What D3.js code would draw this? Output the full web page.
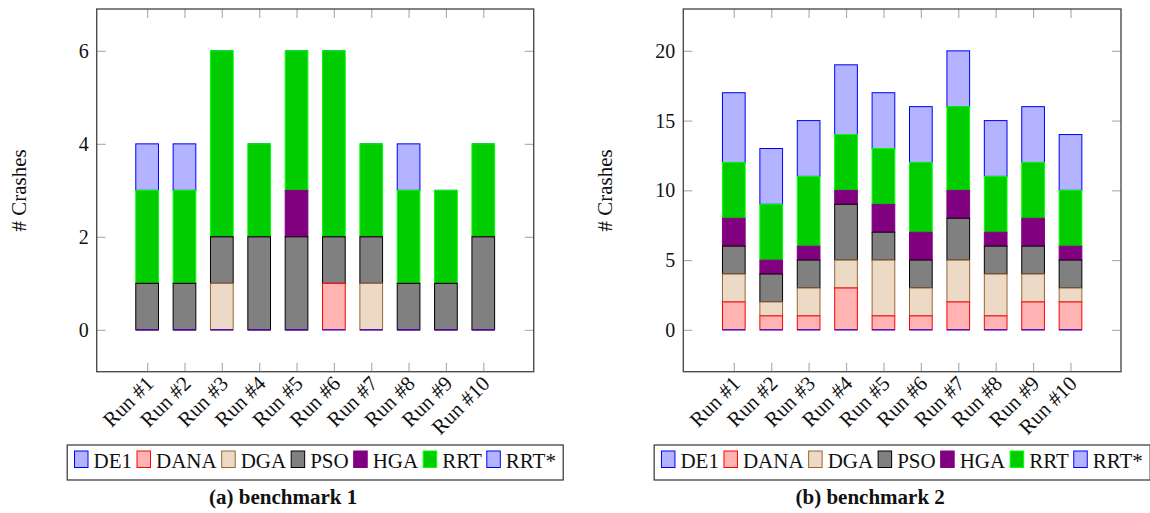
<!DOCTYPE html>
<html><head><meta charset="utf-8">
<script src="https://cdn.jsdelivr.net/npm/d3@7"></script>
<style>
body{margin:0;background:#fff}
svg{display:block}
text{font-family:"Liberation Serif";fill:#111}
</style>
</head><body>
<svg id="c" width="1150" height="513"></svg>
<script>
// ---------- data ----------
const runs = ["Run #1","Run #2","Run #3","Run #4","Run #5","Run #6","Run #7","Run #8","Run #9","Run #10"];
const seriesNames = ["DE1","DANA","DGA","PSO","HGA","RRT","RRT*"];
const seriesFill   = ["#b3b3ff","#ffb3b3","#ecd9c6","#808080","#800080","#00cc00","#b3b3ff"];
const seriesStroke = ["#0000ff","#ff0000","#996633","#000000","#800080","#00ff00","#0000ff"];

// benchmark 1
const b1DE1  = [0,0,0,0,0,0,0,0,0,0];
const b1DANA = [0,0,0,0,0,1,0,0,0,0];
const b1DGA  = [0,0,1,0,0,0,1,0,0,0];
const b1PSO  = [1,1,1,2,2,1,1,1,1,2];
const b1HGA  = [0,0,0,0,1,0,0,0,0,0];
const b1RRT  = [2,2,4,2,3,4,2,2,2,2];
const b1RRTs = [1,1,0,0,0,0,0,1,0,0];
const b1Ticks = [0,2,4,6];

// benchmark 2
const b2DE1  = [0,0,0,0,0,0,0,0,0,0];
const b2DANA = [2,1,1,3,1,1,2,1,2,2];
const b2DGA  = [2,1,2,2,4,2,3,3,2,1];
const b2PSO  = [2,2,2,4,2,2,3,2,2,2];
const b2HGA  = [2,1,1,1,2,2,2,1,2,1];
const b2RRT  = [4,4,5,4,4,5,6,4,4,4];
const b2RRTs = [5,4,4,5,4,4,4,4,4,4];
const b2Ticks = [0,5,10,15,20];

const captions = ["(a) benchmark 1","(b) benchmark 2"];

// ---------- drawing ----------
const svg = d3.select("#c");
const FONT = '"Liberation Serif"';

function drawChart(cfg){
  const {left,right,top,bottom,series,yDomain,yTicks,caption} = cfg;
  const g = svg.append("g");
  const x = d3.scaleLinear().domain([1-1.35, runs.length+1.35]).range([left,right]);
  const y = d3.scaleLinear().domain(yDomain).range([bottom,top]);
  const barW = 22.7;

  const table = runs.map((r,i)=>{
    const o = {run:r, idx:i+1};
    seriesNames.forEach((s,k)=>{ o[s] = series[k][i]; });
    return o;
  });
  const stacked = d3.stack().keys(seriesNames)(table);

  // draw series from top to bottom (reverse order), as in the original
  for(let k = stacked.length-1; k>=0; k--){
    const layer = stacked[k];
    const lg = g.append("g");
    layer.forEach(d=>{
      const cx = x(d.data.idx);
      const v = d[1]-d[0];
      if(v>0){
        lg.append("rect")
          .attr("x",cx-barW/2).attr("width",barW)
          .attr("y",y(d[1])).attr("height",y(d[0])-y(d[1]))
          .attr("fill",seriesFill[k]).attr("stroke",seriesStroke[k]).attr("stroke-width",1);
      } else {
        lg.append("line")
          .attr("x1",cx-barW/2).attr("x2",cx+barW/2)
          .attr("y1",y(d[0])).attr("y2",y(d[0]))
          .attr("stroke",seriesStroke[k]).attr("stroke-width",1);
      }
    });
  }

  const tickCol = "#b0b0b0";
  const ax = g.append("g").attr("transform",`translate(${left},0)`)
    .call(d3.axisLeft(y).tickValues(yTicks).tickSize(-9).tickPadding(8).tickFormat(d3.format("d")));
  ax.attr("font-family",FONT);
  ax.select(".domain").remove();
  ax.selectAll("line").attr("stroke",tickCol).attr("stroke-width",1.2);
  ax.selectAll("text").style("font-size","20px").attr("fill","#111").style("font-family",FONT);

  const axR = g.append("g").attr("transform",`translate(${right},0)`)
    .call(d3.axisRight(y).tickValues(yTicks).tickSize(-9).tickFormat(""));
  axR.select(".domain").remove();
  axR.selectAll("line").attr("stroke",tickCol).attr("stroke-width",1.2);

  const axT = g.append("g").attr("transform",`translate(0,${top})`)
    .call(d3.axisTop(x).tickValues(d3.range(1,runs.length+1)).tickSize(-9).tickFormat(""));
  axT.select(".domain").remove();
  axT.selectAll("line").attr("stroke",tickCol).attr("stroke-width",1.2);

  const axB = g.append("g").attr("transform",`translate(0,${bottom})`)
    .call(d3.axisBottom(x).tickValues(d3.range(1,runs.length+1)).tickSize(-9).tickFormat(d=>runs[d-1]));
  axB.attr("font-family",FONT);
  axB.select(".domain").remove();
  axB.selectAll("line").attr("stroke",tickCol).attr("stroke-width",1.2);
  axB.selectAll("text")
    .attr("x",0).attr("y",0).attr("dy","0.35em")
    .attr("text-anchor","end")
    .attr("transform","translate(2,8) rotate(-45)")
    .style("font-size","21px").attr("fill","#111").style("font-family",FONT);

  // frame
  g.append("rect").attr("x",left).attr("y",top).attr("width",right-left).attr("height",bottom-top)
    .attr("fill","none").attr("stroke","#4d4d4d").attr("stroke-width",1.4);

  // y label
  g.append("text")
    .attr("transform",`translate(${left-78},${(top+bottom)/2}) rotate(-90)`)
    .attr("text-anchor","middle").attr("dominant-baseline","central")
    .style("font-size","21px").style("font-family",FONT).text("# Crashes");

  // legend
  const cx = (left+right)/2;
  const boxW = 496, boxTop = 445, boxH = 35;
  const leg = g.append("g");
  leg.append("rect").attr("x",cx-boxW/2).attr("y",boxTop).attr("width",boxW).attr("height",boxH)
    .attr("fill","#fff").attr("stroke","#333").attr("stroke-width",1.2);
  const items = leg.append("g");
  let pos = 0;
  seriesNames.forEach((s,k)=>{
    items.append("rect").attr("x",pos).attr("y",boxTop+6).attr("width",13.5).attr("height",16.5)
      .attr("fill",seriesFill[k]).attr("stroke",seriesStroke[k]).attr("stroke-width",1);
    pos += 13.5 + 5.5;
    const t = items.append("text").attr("x",pos).attr("y",boxTop+22.5)
      .style("font-size","21px").style("font-family",FONT).text(s);
    pos += t.node().getComputedTextLength() + 5;
  });
  pos -= 5;
  items.attr("transform",`translate(${cx-pos/2},0)`);

  // caption
  g.append("text").attr("x",cx-32).attr("y",504).attr("text-anchor","middle")
    .style("font-size","21px").style("font-weight","bold").style("font-family",FONT).text(caption);
}

drawChart({left:96.7,right:533.7,top:9,bottom:371.7,
  series:[b1DE1,b1DANA,b1DGA,b1PSO,b1HGA,b1RRT,b1RRTs],
  yDomain:[-0.9,6.9], yTicks:b1Ticks, caption:captions[0]});
drawChart({left:683.3,right:1121,top:9,bottom:371.7,
  series:[b2DE1,b2DANA,b2DGA,b2PSO,b2HGA,b2RRT,b2RRTs],
  yDomain:[-3,23], yTicks:b2Ticks, caption:captions[1]});
</script>
</body></html>
